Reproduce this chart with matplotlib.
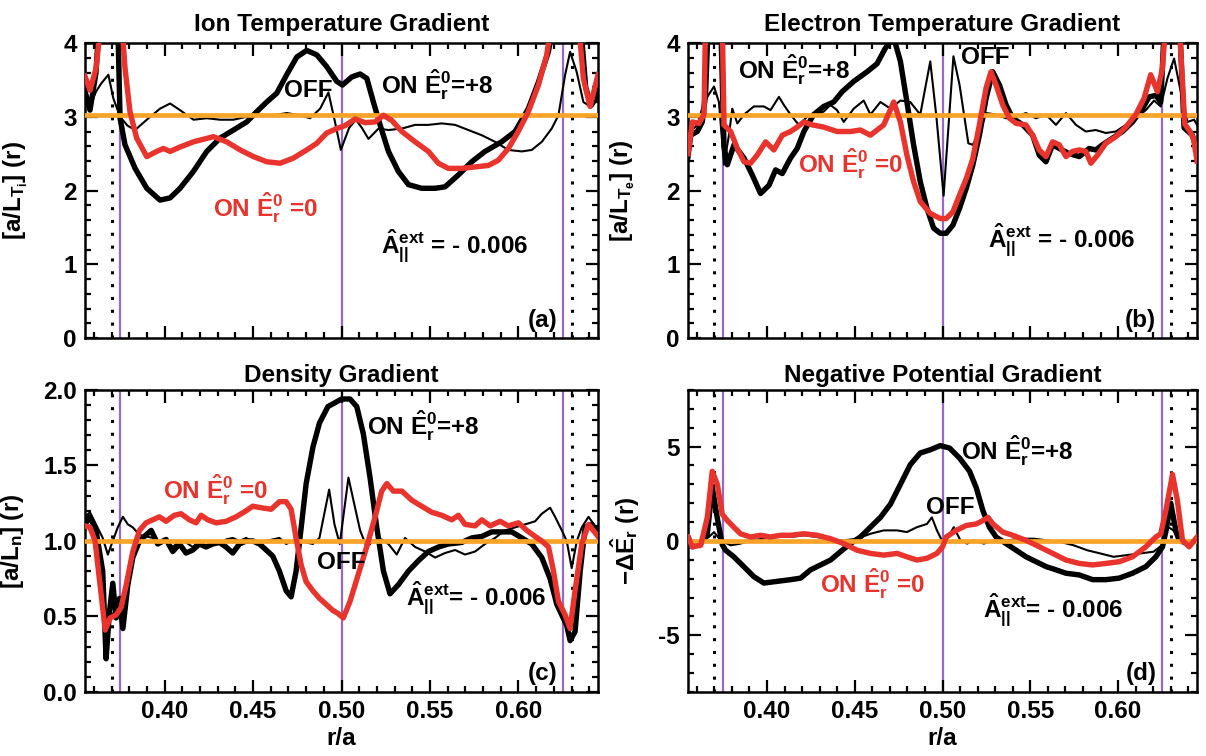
import matplotlib
matplotlib.use('Agg')
import matplotlib.pyplot as plt
from matplotlib.ticker import MultipleLocator, FormatStrFormatter

# --------- data (r/a on x) ---------
# panel (a) ion temperature gradient
a_on8_x = [0.355, 0.3578, 0.3612, 0.3630, 0.3735, 0.3748, 0.3776, 0.3833, 0.3899, 0.3974, 0.4031, 0.4087, 0.4163, 0.4238, 0.4313, 0.4389, 0.4464, 0.4521, 0.4577, 0.4634, 0.4690, 0.4747, 0.4803, 0.4860, 0.4916, 0.4973, 0.5005, 0.5058, 0.5105, 0.5143, 0.5180, 0.5218, 0.5265, 0.5321, 0.5378, 0.5453, 0.5529, 0.5585, 0.5660, 0.5736, 0.5811, 0.5905, 0.5981, 0.6056, 0.6113, 0.6169, 0.6200, 0.6350, 0.6380, 0.6410, 0.645]
a_on8_y = [3.34, 3.09, 3.6, 4.3, 4.3, 2.98, 2.62, 2.30, 2.03, 1.87, 1.90, 2.03, 2.26, 2.53, 2.71, 2.82, 2.93, 3.07, 3.20, 3.32, 3.57, 3.81, 3.90, 3.84, 3.68, 3.48, 3.43, 3.54, 3.58, 3.52, 3.20, 2.89, 2.53, 2.26, 2.08, 2.03, 2.03, 2.05, 2.21, 2.39, 2.53, 2.66, 2.80, 3.11, 3.47, 3.88, 4.3, 4.3, 3.4, 3.15, 3.3]
a_off_x = [0.355, 0.3578, 0.3612, 0.3641, 0.3682, 0.3710, 0.3748, 0.3790, 0.3833, 0.3899, 0.3974, 0.4031, 0.4087, 0.4163, 0.4238, 0.4313, 0.4389, 0.4464, 0.4540, 0.4615, 0.4690, 0.4766, 0.4822, 0.4879, 0.4926, 0.4963, 0.4996, 0.5043, 0.5081, 0.5115, 0.5152, 0.5209, 0.5265, 0.5341, 0.5416, 0.5491, 0.5566, 0.5642, 0.5717, 0.5792, 0.5868, 0.5943, 0.6019, 0.6075, 0.6132, 0.6188, 0.6226, 0.6264, 0.6292, 0.6329, 0.6367, 0.6405, 0.645]
a_off_y = [3.43, 3.14, 3.34, 3.45, 3.57, 3.25, 3.0, 2.88, 2.82, 2.96, 3.11, 3.18, 3.09, 2.96, 2.98, 2.96, 2.96, 3.0, 3.02, 3.02, 3.05, 3.02, 2.98, 3.11, 3.33, 2.93, 2.55, 2.85, 2.96, 2.85, 2.70, 2.84, 2.82, 2.84, 2.89, 2.89, 2.91, 2.89, 2.82, 2.75, 2.66, 2.55, 2.53, 2.55, 2.66, 2.84, 3.02, 3.57, 3.88, 3.61, 3.2, 3.14, 3.39]
a_e0_x = [0.355, 0.3578, 0.3612, 0.3641, 0.3757, 0.3776, 0.3804, 0.3842, 0.3899, 0.3955, 0.3993, 0.4031, 0.4087, 0.4163, 0.4276, 0.4351, 0.4427, 0.4502, 0.4577, 0.4653, 0.4728, 0.4803, 0.4860, 0.4916, 0.4973, 0.5020, 0.5077, 0.5133, 0.5190, 0.5237, 0.5284, 0.5341, 0.5416, 0.5491, 0.5547, 0.5604, 0.5679, 0.5755, 0.5830, 0.5886, 0.5943, 0.5999, 0.6056, 0.6113, 0.6160, 0.6188, 0.6339, 0.6367, 0.6405, 0.645]
a_e0_y = [3.55, 3.36, 3.65, 4.3, 4.3, 3.66, 3.07, 2.71, 2.46, 2.53, 2.57, 2.53, 2.59, 2.66, 2.73, 2.66, 2.55, 2.46, 2.39, 2.37, 2.44, 2.55, 2.64, 2.78, 2.84, 2.88, 2.97, 2.92, 2.93, 3.02, 2.95, 2.80, 2.66, 2.53, 2.37, 2.30, 2.30, 2.32, 2.34, 2.41, 2.57, 2.80, 3.07, 3.43, 3.84, 4.3, 4.3, 3.52, 3.14, 3.57]

# panel (b) electron temperature gradient
b_on8_x = [0.355, 0.3565, 0.3603, 0.3631, 0.3650, 0.3665, 0.3736, 0.3755, 0.3774, 0.3812, 0.3869, 0.3916, 0.3963, 0.4011, 0.4049, 0.4087, 0.4134, 0.4172, 0.4210, 0.4266, 0.4323, 0.4380, 0.4428, 0.4494, 0.4570, 0.4627, 0.4674, 0.4722, 0.4760, 0.4797, 0.4835, 0.4873, 0.4911, 0.4949, 0.4987, 0.5021, 0.5059, 0.5097, 0.5135, 0.5172, 0.5210, 0.5248, 0.5286, 0.5324, 0.5362, 0.5400, 0.5457, 0.5513, 0.5551, 0.5589, 0.5627, 0.5665, 0.5722, 0.5779, 0.5835, 0.5873, 0.5911, 0.5968, 0.6025, 0.6082, 0.6139, 0.6177, 0.6215, 0.6243, 0.6265, 0.6350, 0.6376, 0.6423, 0.645]
b_on8_y = [2.46, 2.75, 2.80, 2.93, 3.3, 4.3, 4.3, 2.6, 2.35, 2.62, 2.44, 2.21, 1.96, 2.07, 2.28, 2.23, 2.44, 2.57, 2.80, 3.03, 3.14, 3.20, 3.34, 3.48, 3.61, 3.72, 3.93, 4.07, 3.75, 3.20, 2.62, 2.12, 1.76, 1.49, 1.42, 1.42, 1.53, 1.76, 2.03, 2.34, 2.75, 3.25, 3.61, 3.43, 3.16, 2.98, 2.89, 2.75, 2.48, 2.39, 2.62, 2.57, 2.50, 2.46, 2.57, 2.55, 2.62, 2.71, 2.80, 2.93, 3.11, 3.27, 3.29, 3.20, 4.3, 4.3, 2.85, 2.75, 2.55]
b_off_x = [0.355, 0.3565, 0.3603, 0.3641, 0.3698, 0.3726, 0.3755, 0.3783, 0.3802, 0.3831, 0.3869, 0.3925, 0.3982, 0.4020, 0.4068, 0.4096, 0.4134, 0.4181, 0.4229, 0.4276, 0.4323, 0.4361, 0.4399, 0.4437, 0.4494, 0.4551, 0.4589, 0.4646, 0.4703, 0.4760, 0.4816, 0.4873, 0.4930, 0.4965, 0.5006, 0.5062, 0.5097, 0.5147, 0.5172, 0.5210, 0.5250, 0.5305, 0.5362, 0.5419, 0.5475, 0.5532, 0.5589, 0.5646, 0.5703, 0.5760, 0.5816, 0.5873, 0.5930, 0.5987, 0.6044, 0.6101, 0.6158, 0.6205, 0.6243, 0.6281, 0.6319, 0.6357, 0.6395, 0.6433, 0.645]
b_off_y = [2.53, 2.80, 2.89, 3.20, 3.41, 3.20, 2.35, 2.75, 3.11, 2.91, 3.03, 3.14, 3.14, 3.09, 3.27, 3.16, 3.03, 2.89, 3.00, 3.03, 3.07, 3.16, 3.09, 2.93, 3.11, 3.22, 3.03, 3.20, 3.11, 3.22, 3.20, 3.03, 3.75, 3.0, 1.93, 3.82, 3.43, 2.64, 2.62, 2.80, 3.05, 3.03, 2.98, 3.0, 3.05, 2.98, 3.03, 2.89, 3.05, 2.89, 2.80, 2.82, 2.78, 2.80, 2.89, 2.98, 3.09, 3.22, 3.14, 3.52, 3.79, 3.34, 2.93, 2.96, 2.89]
b_e0_x = [0.355, 0.3575, 0.3612, 0.3641, 0.3650, 0.3745, 0.3755, 0.3793, 0.3831, 0.3869, 0.3906, 0.3944, 0.3992, 0.4039, 0.4087, 0.4134, 0.4172, 0.4210, 0.4257, 0.4323, 0.4399, 0.4475, 0.4532, 0.4589, 0.4665, 0.4722, 0.4760, 0.4797, 0.4835, 0.4873, 0.4930, 0.4987, 0.5021, 0.5059, 0.5097, 0.5135, 0.5172, 0.5210, 0.5248, 0.5276, 0.5305, 0.5343, 0.5381, 0.5419, 0.5475, 0.5513, 0.5551, 0.5589, 0.5627, 0.5665, 0.5703, 0.5741, 0.5779, 0.5816, 0.5845, 0.5883, 0.5930, 0.5987, 0.6044, 0.6101, 0.6148, 0.6186, 0.6224, 0.6253, 0.6272, 0.6348, 0.6380, 0.6410, 0.6430, 0.645]
b_e0_y = [2.50, 2.93, 2.91, 3.03, 4.3, 4.3, 2.89, 2.80, 2.57, 2.39, 2.37, 2.48, 2.66, 2.55, 2.75, 2.80, 2.86, 2.93, 2.89, 2.86, 2.80, 2.80, 2.82, 2.75, 2.89, 3.20, 2.93, 2.48, 2.12, 1.85, 1.69, 1.62, 1.62, 1.71, 1.94, 2.16, 2.43, 2.89, 3.39, 3.61, 3.43, 3.16, 2.98, 2.91, 2.89, 2.75, 2.55, 2.46, 2.66, 2.62, 2.46, 2.53, 2.55, 2.53, 2.37, 2.48, 2.64, 2.73, 2.86, 3.03, 3.25, 3.57, 3.34, 3.66, 4.3, 4.3, 2.9, 2.8, 2.7, 2.4]

# panel (c) density gradient
c_on8_x = [0.355, 0.3578, 0.3612, 0.3650, 0.3669, 0.3688, 0.3707, 0.3726, 0.3745, 0.3764, 0.3792, 0.3820, 0.3858, 0.3895, 0.3924, 0.3961, 0.4008, 0.4046, 0.4084, 0.4121, 0.4159, 0.4197, 0.4234, 0.4272, 0.4310, 0.4347, 0.4385, 0.4423, 0.4461, 0.4498, 0.4536, 0.4574, 0.4611, 0.4649, 0.4687, 0.4715, 0.4743, 0.4772, 0.4800, 0.4838, 0.4875, 0.4923, 0.4970, 0.5000, 0.5048, 0.5086, 0.5123, 0.5161, 0.5199, 0.5237, 0.5274, 0.5321, 0.5378, 0.5435, 0.5491, 0.5548, 0.5604, 0.5679, 0.5736, 0.5793, 0.5849, 0.5906, 0.5962, 0.6019, 0.6075, 0.6132, 0.6179, 0.6217, 0.6245, 0.6273, 0.6292, 0.6320, 0.6349, 0.6377, 0.6415, 0.645]
c_on8_y = [1.11, 1.16, 1.07, 0.80, 0.22, 0.53, 0.72, 0.49, 0.62, 0.42, 0.71, 0.89, 1.0, 1.04, 1.07, 0.98, 1.01, 0.93, 0.98, 0.92, 0.94, 0.98, 0.96, 0.98, 0.99, 0.96, 0.92, 0.98, 1.0, 1.0, 0.98, 0.94, 0.90, 0.80, 0.67, 0.63, 0.80, 1.09, 1.38, 1.62, 1.78, 1.89, 1.92, 1.94, 1.94, 1.89, 1.71, 1.42, 1.09, 0.80, 0.65, 0.71, 0.80, 0.87, 0.93, 0.96, 0.98, 0.99, 1.02, 1.03, 1.06, 1.06, 1.06, 1.02, 0.98, 0.89, 0.75, 0.58, 0.51, 0.44, 0.34, 0.40, 0.80, 1.09, 1.11, 1.04]
c_off_x = [0.355, 0.3578, 0.3612, 0.3650, 0.3679, 0.3707, 0.3735, 0.3764, 0.3792, 0.3820, 0.3858, 0.3895, 0.3933, 0.3970, 0.4008, 0.4046, 0.4084, 0.4121, 0.4159, 0.4197, 0.4234, 0.4272, 0.4310, 0.4347, 0.4385, 0.4423, 0.4461, 0.4498, 0.4536, 0.4574, 0.4611, 0.4649, 0.4687, 0.4725, 0.4762, 0.4800, 0.4838, 0.4875, 0.4930, 0.4960, 0.4990, 0.5039, 0.5067, 0.5105, 0.5142, 0.5180, 0.5227, 0.5265, 0.5312, 0.5359, 0.5416, 0.5472, 0.5529, 0.5585, 0.5642, 0.5698, 0.5755, 0.5811, 0.5868, 0.5924, 0.5981, 0.6038, 0.6094, 0.6132, 0.6179, 0.6207, 0.6245, 0.6273, 0.6301, 0.6330, 0.6358, 0.6396, 0.645]
c_off_y = [1.16, 1.19, 1.11, 1.02, 0.91, 1.0, 1.09, 1.16, 1.11, 1.09, 1.04, 1.03, 1.02, 0.98, 1.01, 0.96, 1.0, 0.99, 0.96, 1.0, 0.96, 1.0, 0.98, 1.01, 1.02, 1.0, 1.02, 0.99, 0.98, 1.0, 1.01, 1.02, 0.98, 1.0, 1.01, 0.99, 0.98, 1.02, 1.34, 1.11, 0.98, 1.42, 1.27, 1.07, 0.96, 1.0, 1.01, 0.98, 0.91, 1.02, 0.96, 0.93, 0.89, 0.92, 0.94, 0.91, 0.93, 0.98, 1.02, 1.07, 1.09, 1.11, 1.13, 1.18, 1.22, 1.16, 1.07, 1.0, 0.82, 1.0, 1.09, 1.16, 1.07]
c_e0_x = [0.355, 0.3578, 0.3607, 0.3635, 0.3664, 0.3692, 0.3726, 0.3754, 0.3783, 0.3820, 0.3858, 0.3895, 0.3933, 0.3970, 0.4008, 0.4055, 0.4093, 0.4140, 0.4178, 0.4206, 0.4244, 0.4291, 0.4347, 0.4404, 0.4461, 0.4498, 0.4545, 0.4602, 0.4649, 0.4687, 0.4715, 0.4743, 0.4772, 0.4800, 0.4838, 0.4875, 0.4913, 0.4951, 0.4980, 0.5010, 0.5048, 0.5095, 0.5142, 0.5190, 0.5227, 0.5256, 0.5293, 0.5341, 0.5397, 0.5453, 0.5510, 0.5566, 0.5623, 0.5661, 0.5698, 0.5755, 0.5793, 0.5840, 0.5896, 0.5943, 0.6000, 0.6047, 0.6094, 0.6132, 0.6170, 0.6198, 0.6226, 0.6264, 0.6292, 0.6320, 0.6358, 0.6396, 0.645]
c_e0_y = [1.10, 1.09, 1.0, 0.71, 0.41, 0.49, 0.51, 0.56, 0.71, 0.93, 1.07, 1.12, 1.14, 1.16, 1.13, 1.17, 1.18, 1.14, 1.12, 1.17, 1.14, 1.12, 1.13, 1.16, 1.20, 1.23, 1.22, 1.21, 1.26, 1.26, 1.21, 1.02, 0.84, 0.73, 0.67, 0.62, 0.58, 0.54, 0.52, 0.49, 0.60, 0.78, 0.96, 1.16, 1.33, 1.38, 1.33, 1.33, 1.27, 1.23, 1.19, 1.17, 1.14, 1.17, 1.11, 1.10, 1.14, 1.10, 1.13, 1.10, 1.12, 1.07, 1.03, 1.0, 0.96, 0.80, 0.60, 0.51, 0.42, 0.67, 0.98, 1.11, 1.03]

# panel (d) negative potential gradient
d_on8_x = [0.355, 0.3575, 0.3622, 0.3660, 0.3688, 0.3717, 0.3745, 0.3764, 0.3811, 0.3868, 0.3925, 0.3982, 0.4058, 0.4134, 0.4191, 0.4248, 0.4305, 0.4362, 0.4418, 0.4475, 0.4532, 0.4589, 0.4646, 0.4703, 0.4760, 0.4816, 0.4873, 0.4930, 0.4987, 0.5040, 0.5097, 0.5154, 0.5192, 0.5230, 0.5267, 0.5305, 0.5362, 0.5419, 0.5476, 0.5533, 0.5590, 0.5647, 0.5703, 0.5779, 0.5855, 0.5931, 0.6006, 0.6082, 0.6158, 0.6215, 0.6253, 0.6272, 0.6300, 0.6330, 0.6348, 0.6395, 0.645]
d_on8_y = [0.21, -0.31, -0.14, 0.38, 2.85, 1.2, -0.2, -0.49, -0.84, -1.36, -1.89, -2.23, -2.14, -2.05, -1.97, -1.53, -1.27, -1.01, -0.57, -0.14, 0.21, 0.73, 1.25, 1.95, 3.0, 4.04, 4.66, 4.83, 5.05, 4.92, 4.39, 3.69, 2.82, 1.60, 0.73, 0.21, -0.14, -0.49, -0.84, -1.10, -1.36, -1.53, -1.71, -1.80, -2.05, -2.05, -1.97, -1.71, -1.36, -0.84, -0.31, 0.5, 2.0, 0.5, 0.03, -0.14, 0.03]
d_off_x = [0.355, 0.3575, 0.3622, 0.3669, 0.3698, 0.3736, 0.3793, 0.3849, 0.3906, 0.3982, 0.4058, 0.4134, 0.4210, 0.4286, 0.4362, 0.4437, 0.4513, 0.4589, 0.4665, 0.4741, 0.4797, 0.4854, 0.4911, 0.4939, 0.4968, 0.4996, 0.5010, 0.5064, 0.5102, 0.5140, 0.5178, 0.5235, 0.5292, 0.5368, 0.5444, 0.5519, 0.5595, 0.5671, 0.5747, 0.5823, 0.5898, 0.5974, 0.6050, 0.6126, 0.6202, 0.6249, 0.6287, 0.6315, 0.6353, 0.6400, 0.645]
d_off_y = [0.21, -0.23, -0.05, 0.21, 0.47, 0.03, -0.23, -0.14, 0.03, 0.12, 0.21, 0.21, 0.30, 0.21, 0.03, 0.03, 0.12, 0.38, 0.56, 0.56, 0.47, 0.73, 0.90, 1.25, 0.56, 0.03, -0.14, 0.73, 0.03, -0.14, 0.03, -0.14, 0.03, 0.03, 0.12, 0.12, 0.03, -0.05, -0.23, -0.49, -0.66, -0.84, -0.75, -0.66, -0.57, -0.23, 0.73, 0.56, 0.03, -0.14, 0.12]
d_e0_x = [0.355, 0.3575, 0.3622, 0.3660, 0.3688, 0.3717, 0.3745, 0.3774, 0.3811, 0.3849, 0.3906, 0.3963, 0.4020, 0.4077, 0.4134, 0.4210, 0.4286, 0.4362, 0.4437, 0.4513, 0.4589, 0.4665, 0.4741, 0.4797, 0.4854, 0.4911, 0.4968, 0.5000, 0.5021, 0.5078, 0.5135, 0.5192, 0.5230, 0.5259, 0.5287, 0.5343, 0.5400, 0.5476, 0.5552, 0.5628, 0.5703, 0.5779, 0.5855, 0.5931, 0.6006, 0.6082, 0.6158, 0.6215, 0.6243, 0.6272, 0.6310, 0.6338, 0.6367, 0.6405, 0.645]
d_e0_y = [0.21, -0.31, -0.23, 1.25, 3.69, 2.99, 1.42, 1.08, 0.73, 0.38, 0.21, 0.30, 0.21, 0.30, 0.30, 0.38, 0.30, 0.12, -0.14, -0.49, -0.66, -0.75, -0.66, -0.84, -1.01, -0.92, -0.66, -0.31, 0.21, 0.56, 0.82, 0.90, 1.08, 1.25, 0.90, 0.47, 0.30, 0.03, -0.31, -0.66, -1.01, -1.19, -1.27, -1.19, -1.10, -0.84, -0.31, 0.21, 0.38, 1.60, 3.52, 2.13, 0.03, -0.31, 0.21]

ref_levels = [3.03, 3.03, 1.0, 0.0]          # orange reference profile
purple_r = [0.375, 0.5, 0.625]
dotted_r = [0.37, 0.63]

titles = ['Ion Temperature Gradient', 'Electron Temperature Gradient',
          'Density Gradient', 'Negative Potential Gradient']
ylabels = [r'$[a/L_{T_i}]$ (r)', r'$[a/L_{T_e}]$ (r)', r'$[a/L_n]$ (r)',
           r'$-\Delta\hat{E}_r$ (r)']
tags = ['(a)', '(b)', '(c)', '(d)']
apar_txt = [r'$\hat{A}_{||}^{ext}$ = - 0.006', r'$\hat{A}_{||}^{ext}$ = - 0.006',
            r'$\hat{A}_{||}^{ext}$= - 0.006', r'$\hat{A}_{||}^{ext}$= - 0.006']

# --------- style ---------
fam = 'Liberation Sans'
plt.rcParams['font.family'] = [fam, 'DejaVu Sans']
plt.rcParams['font.weight'] = 'bold'
plt.rcParams['font.size'] = 17.5
plt.rcParams['mathtext.fontset'] = 'custom'
plt.rcParams['mathtext.rm'] = fam + ':bold'
plt.rcParams['mathtext.it'] = fam + ':bold'
plt.rcParams['mathtext.bf'] = fam + ':bold'
plt.rcParams['axes.unicode_minus'] = False

RED = '#e8342d'
ORANGE = '#f8a42a'
PURPLE = '#9a68c8'

fig = plt.figure(figsize=(12.06, 7.56), dpi=100)
boxes = [[0.0705, 0.5529, 0.4254, 0.3902], [0.5705, 0.5529, 0.4221, 0.3902],
         [0.0705, 0.0847, 0.4254, 0.3995], [0.5705, 0.0847, 0.4221, 0.3995]]
curves = [(a_on8_x, a_on8_y, a_off_x, a_off_y, a_e0_x, a_e0_y),
          (b_on8_x, b_on8_y, b_off_x, b_off_y, b_e0_x, b_e0_y),
          (c_on8_x, c_on8_y, c_off_x, c_off_y, c_e0_x, c_e0_y),
          (d_on8_x, d_on8_y, d_off_x, d_off_y, d_e0_x, d_e0_y)]
ylims = [(0, 4), (0, 4), (0, 2.0), (-8, 8)]
ymaj = [1, 1, 0.5, 5]
ymin = [0.2, 0.2, 0.1, 1]
ylab_x = [-0.107, -0.100, -0.115, -0.090]
title_pad = [9, 9, 6, 6]

# label positions (axes fraction)
on8_pos = [(0.577, 0.86), (0.098, 0.91), (0.55, 0.88), (0.536, 0.80)]
off_pos = [(0.435, 0.84), (0.584, 0.95), (0.50, 0.43), (0.515, 0.61)]
e0_pos = [(0.25, 0.44), (0.216, 0.59), (0.152, 0.67), (0.26, 0.36)]
apar_pos = [(0.577, 0.31), (0.59, 0.33), (0.625, 0.31), (0.58, 0.27)]

on8_txt = r'ON $\hat{E}_r^0$=+8'
e0_txt = r'ON $\hat{E}_r^0$ =0'

for i in range(4):
    ax = fig.add_axes(boxes[i])
    x1, y1, x2, y2, x3, y3 = curves[i]
    for r in purple_r:
        ax.axvline(r, color=PURPLE, lw=1.6, zorder=1)
    for r in dotted_r:
        ax.axvline(r, color='black', lw=2.2, ls=(0, (1, 3.2)), zorder=1)
    ax.plot(x2, y2, color='black', lw=1.5, zorder=2)
    ax.plot(x1, y1, color='black', lw=3.9, zorder=3, solid_joinstyle='round')
    ax.axhline(ref_levels[i], color=ORANGE, lw=3.4, zorder=4)
    ax.plot(x3, y3, color=RED, lw=3.9, zorder=5, solid_joinstyle='round')

    ax.set_xlim(0.355, 0.645)
    ax.set_ylim(*ylims[i])
    ax.xaxis.set_major_locator(MultipleLocator(0.05))
    ax.xaxis.set_minor_locator(MultipleLocator(0.01))
    ax.yaxis.set_major_locator(MultipleLocator(ymaj[i]))
    ax.yaxis.set_minor_locator(MultipleLocator(ymin[i]))
    ax.xaxis.set_major_formatter(FormatStrFormatter('%.2f'))
    if i == 2:
        ax.yaxis.set_major_formatter(FormatStrFormatter('%.1f'))
    else:
        ax.yaxis.set_major_formatter(FormatStrFormatter('%d'))
    ax.tick_params(which='both', direction='in', top=True, right=True,
                   width=1.6, labelsize=17.5, pad=6)
    ax.tick_params(which='major', length=9)
    ax.tick_params(which='minor', length=4.5)
    for s in ax.spines.values():
        s.set_linewidth(1.8)
    if i < 2:
        ax.tick_params(labelbottom=False)
    else:
        ax.set_xlabel('r/a', fontweight='bold', labelpad=3)

    ax.set_title(titles[i], fontweight='bold', fontsize=17.5, pad=title_pad[i])
    ax.set_ylabel(ylabels[i], fontweight='bold')
    ax.yaxis.set_label_coords(ylab_x[i], 0.5)

    ax.text(*on8_pos[i], on8_txt, transform=ax.transAxes, ha='left',
            va='center', fontsize=17.5, fontweight='bold', zorder=6)
    ax.text(*off_pos[i], 'OFF', transform=ax.transAxes, ha='center',
            va='center', fontsize=17.5, fontweight='bold', zorder=6)
    ax.text(*e0_pos[i], e0_txt, transform=ax.transAxes, ha='left',
            va='center', fontsize=17.5, fontweight='bold', color=RED, zorder=6)
    ax.text(*apar_pos[i], apar_txt[i], transform=ax.transAxes, ha='left',
            va='center', fontsize=17.5, fontweight='bold', zorder=6)
    ax.text(0.92, 0.06, tags[i], transform=ax.transAxes, ha='right',
            va='center', fontsize=17.5, fontweight='bold', zorder=6)

fig.savefig('out.png', dpi=100)
